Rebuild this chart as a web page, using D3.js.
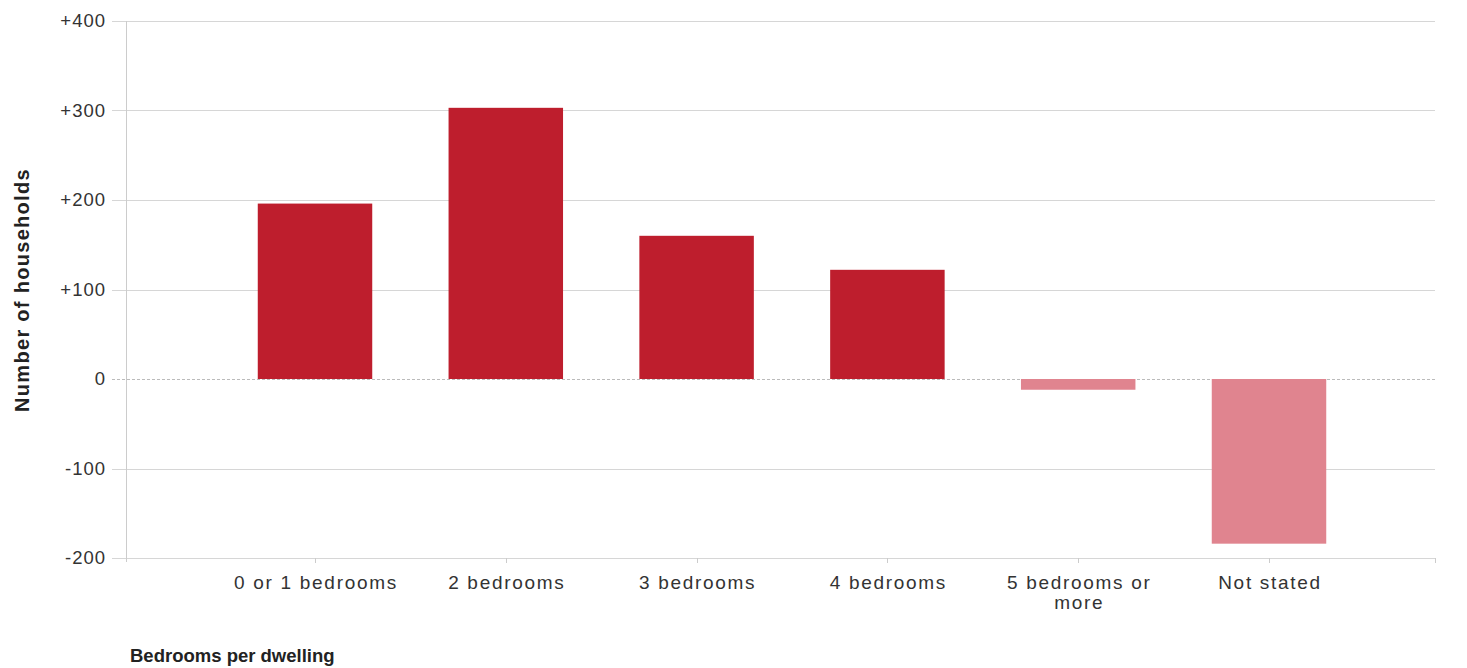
<!DOCTYPE html>
<html><head><meta charset="utf-8">
<script src="https://cdn.jsdelivr.net/npm/d3@7"></script>
<style>body{margin:0;background:#fff}svg{display:block}</style>
</head><body>
<script>
const categories = ["0 or 1 bedrooms","2 bedrooms","3 bedrooms","4 bedrooms","5 bedrooms or more","Not stated"];
const values = [196, 303, 160, 122, -12, -184];
const yTicks = [-200,-100,0,100,200,300,400];
const yTickLabels = ["-200","-100","0","+100","+200","+300","+400"];

const W=1467,H=668;
const svg=d3.select("body").append("svg").attr("width",W).attr("height",H);
const plotL=126, plotR=1435;
const y=d3.scaleLinear().domain([-200,400]).range([558,21]);
const x=d3.scaleBand().domain(categories).range([219.6,1364.4]).paddingInner(0.4).paddingOuter(0.2);
const font="Arial, 'Liberation Sans', sans-serif";

const g=svg.append("g");
yTicks.forEach((t,i)=>{
  g.append("line").attr("x1",112).attr("x2",plotR).attr("y1",Math.round(y(t))+0.5).attr("y2",Math.round(y(t))+0.5)
   .attr("stroke",t===0?"#bbb":"#d6d6d6").attr("stroke-width",1)
   .attr("stroke-dasharray",t===0?"3,2":null);
  g.append("text").attr("x",106).attr("y",y(t)).attr("dy","0.35em").attr("text-anchor","end")
   .attr("font-family",font).attr("font-size",18.5).attr("letter-spacing","1px").attr("fill","#333").text(yTickLabels[i]);
});
g.append("line").attr("x1",plotL+0.5).attr("x2",plotL+0.5).attr("y1",y(400)).attr("y2",y(-200)+4).attr("stroke","#ccc");
const tickXs=categories.map(c=>x(c)+x.bandwidth()/2).concat([plotR]);
tickXs.forEach(tx=>{
  g.append("line").attr("x1",Math.round(tx)+0.5).attr("x2",Math.round(tx)+0.5).attr("y1",y(-200)).attr("y2",y(-200)+5).attr("stroke","#ccc");
});

svg.append("g").selectAll("rect").data(values).join("rect")
 .attr("x",(d,i)=>x(categories[i]))
 .attr("width",x.bandwidth())
 .attr("y",d=>y(Math.max(0,d)))
 .attr("height",d=>Math.abs(y(d)-y(0)))
 .attr("fill",d=>d>=0?"#BE1E2D":"#E0848F");

categories.forEach((c,i)=>{
  const cx=x(c)+x.bandwidth()/2;
  const lines=c==="5 bedrooms or more"?["5 bedrooms or","more"]:[c];
  lines.forEach((l,j)=>{
    svg.append("text").attr("x",cx+1).attr("y",589+j*20).attr("text-anchor","middle")
     .attr("font-family",font).attr("font-size",19).attr("fill","#333").attr("letter-spacing","1.7px").text(l);
  });
});

svg.append("text").attr("transform","translate(29,290) rotate(-90)").attr("text-anchor","middle")
 .attr("font-family",font).attr("font-weight","bold").attr("font-size",20).attr("letter-spacing","1.3px").attr("fill","#222").text("Number of households");
svg.append("text").attr("x",130).attr("y",662)
 .attr("font-family",font).attr("font-weight","bold").attr("font-size",18.5).attr("fill","#222").text("Bedrooms per dwelling");
</script>
</body></html>
